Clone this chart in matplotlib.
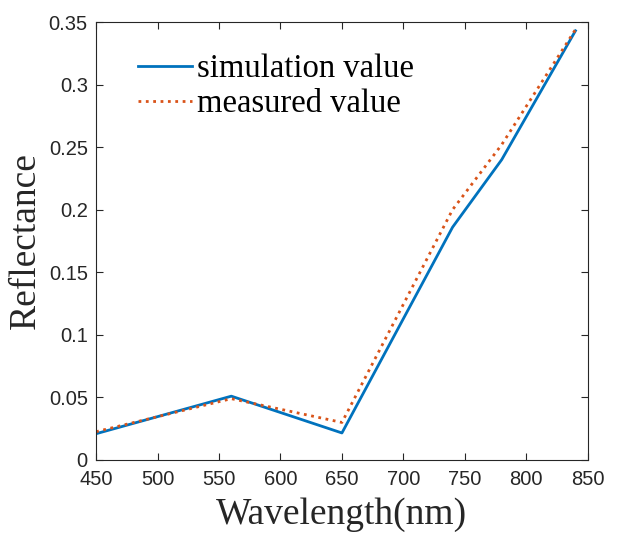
import matplotlib
matplotlib.use("Agg")
import matplotlib.pyplot as plt

# wavelength (nm) and reflectance values
wavelength = [450, 560, 650, 740, 780, 840]
simulation = [0.021, 0.051, 0.0216, 0.186, 0.240, 0.343]
measured = [0.0226, 0.049, 0.030, 0.200, 0.252, 0.344]

x_ticks = [450, 500, 550, 600, 650, 700, 750, 800, 850]
y_ticks = [0, 0.05, 0.1, 0.15, 0.2, 0.25, 0.3, 0.35]
y_labels = ["0", "0.05", "0.1", "0.15", "0.2", "0.25", "0.3", "0.35"]

fig = plt.figure(figsize=(6.2, 5.34), dpi=100)
ax = fig.add_axes([0.155, 0.1386, 0.793, 0.8202])

ax.plot(wavelength, simulation, color="#0072BD", linewidth=2.0, label="simulation value")
ax.plot(wavelength, measured, color="#D95319", linewidth=2.0, linestyle=":", label="measured value")

ax.set_xlim(450, 850)
ax.set_ylim(0, 0.35)
ax.set_xticks(x_ticks)
ax.set_yticks(y_ticks)
ax.set_yticklabels(y_labels)
ax.tick_params(direction="in", top=True, right=True, length=5, width=0.8,
               colors="#262626", labelsize=14.5)
ax.tick_params(axis="x", pad=7)
ax.tick_params(axis="y", pad=6)
for lbl in ax.get_xticklabels() + ax.get_yticklabels():
    lbl.set_fontfamily("Liberation Sans")
for s in ax.spines.values():
    s.set_color("#262626")
    s.set_linewidth(0.8)

ax.set_xlabel("Wavelength(nm)", fontfamily="Liberation Serif", fontsize=27, color="#262626", labelpad=6)
ax.set_ylabel("Reflectance", fontfamily="Liberation Serif", fontsize=27, color="#262626", labelpad=4)

leg = ax.legend(loc="upper left", frameon=False, handlelength=1.65, handletextpad=0.15,
                labelspacing=0.15, bbox_to_anchor=(0.026, 0.995),
                prop={"family": "Liberation Serif", "size": 23.5})

fig.savefig("out.png", dpi=100)
